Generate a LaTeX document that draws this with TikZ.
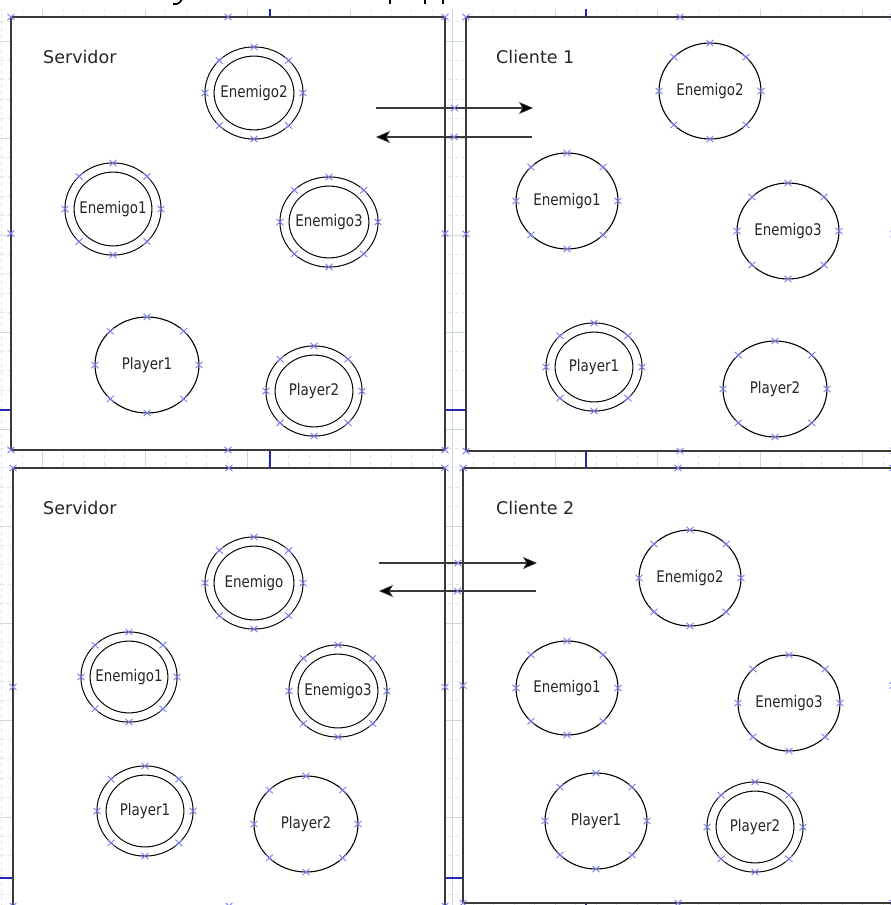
\documentclass[tikz,border=0pt]{standalone}
\usepackage{fontspec}
\setmainfont{DejaVu Sans}
\newfontfamily\ringfont[FakeStretch=0.84]{DejaVu Sans}
\usetikzlibrary{shapes.geometric,arrows.meta,calc}

\definecolor{gridminor}{HTML}{DEE8E7}
\definecolor{gridmajor}{HTML}{CCDAD8}
\definecolor{pagebreak}{HTML}{2626B0}
\definecolor{cpblue}{HTML}{7C7CF4}
\definecolor{framegray}{HTML}{3A3A3A}

\tikzset{
  gridminorline/.style={draw=gridminor, line width=0.8pt, dash pattern=on 4pt off 3pt},
  gridmajorline/.style={draw=gridmajor, line width=0.8pt},
  pageline/.style={draw=pagebreak, line width=1.3pt},
  panel/.style={rectangle, draw=framegray, line width=1.4pt, fill=white,
    inner sep=0pt, outer sep=0pt, anchor=north west},
  panellabel/.style={anchor=base west, inner sep=0pt,
    font=\fontsize{17.5}{20}\selectfont, text=black!85},
  ringone/.style={ellipse, draw=black, line width=1.1pt, inner sep=0pt, outer sep=0pt},
  ringtwo/.style={ellipse, draw=black, line width=1.1pt, double=white,
    double distance=8pt, inner sep=0pt, outer sep=0pt},
  ringtext/.style={inner sep=0pt, font=\ringfont\fontsize{16}{18}\selectfont, text=black!85},
  flow/.style={draw=framegray, line width=1.3pt,
    -{Stealth[length=14pt,width=12pt,inset=3.5pt,fill=black,line width=0.6pt]}},
  cpline/.style={draw=cpblue, line width=0.9pt},
  cpmark/.pic={\draw[cpline] (-3.5,-3.2) -- (3.5,3.2) (-3.5,3.2) -- (3.5,-3.2);},
  inkstroke/.style={draw=black, line width=2pt}
}

% single ring: name, x, y, rx, ry, text
\newcommand\onering[6]{%
  \node[ringone, minimum width={2*#4pt}, minimum height={2*#5pt}] (#1) at (#2,#3) {};
  \node[ringtext] (#1txt) at (#1.center) {#6};
  \foreach \a in {0,45,...,315} {\pic at ([shift={(\a:#4pt and #5pt)}]#1.center) {cpmark};}
}
% double ring: name, x, y, outer rx, outer ry, text
\newcommand\tworing[6]{%
  \node[ringtwo, minimum width={2*(#4-4.5)*1pt}, minimum height={2*(#5-4.5)*1pt}] (#1) at (#2,#3) {};
  \node[ringtext] (#1txt) at (#1.center) {#6};
  \foreach \a in {0,45,...,315} {\pic at ([shift={(\a:#4pt and #5pt)}]#1.center) {cpmark};}
}

\begin{document}
\begin{tikzpicture}[x=1pt,y=-1pt]
\useasboundingbox (0,0) rectangle (891,905);
\clip (0,0) rectangle (891,905);

% background grid
\foreach \i in {-2,...,42} \draw[gridminorline] ({42.7+20.5*\i},0) -- ({42.7+20.5*\i},905);
\foreach \j in {-22,...,24} \draw[gridminorline] (0,{429+19.4*\j}) -- (891,{429+19.4*\j});
\foreach \i in {0,...,8} \draw[gridmajorline] ({42.7+102.5*\i},0) -- ({42.7+102.5*\i},905);
\foreach \j in {-4,...,4} \draw[gridmajorline] (0,{429+97*\j}) -- (891,{429+97*\j});

% page boundaries
\draw[pageline] (270,0) -- (270,905);
\draw[pageline] (586,0) -- (586,905);
\draw[pageline] (0,410) -- (891,410);
\draw[pageline] (0,878) -- (891,878);

% title strip along the top edge
\fill[white] (0,0) rectangle (891,9);
\draw[inkstroke, line width=1.8pt] (182,-1) .. controls (180,3) and (178,4.5) .. (173,4);
\draw[inkstroke] (390,-1) -- (390,4);
\draw[inkstroke] (425,-1) -- (425,4);
\draw[inkstroke] (443,-1) -- (443,4);

% panels
\node[panel, minimum width=434pt, minimum height=433pt] (srvA) at (11,17) {};
\node[panel, minimum width=428pt, minimum height=434pt] (cliA) at (466,17) {};
\node[panel, minimum width=432pt, minimum height=438pt] (srvB) at (13,468) {};
\node[panel, minimum width=430pt, minimum height=435pt] (cliB) at (463,468) {};
\foreach \p in {srvA,cliA,srvB,cliB}
  \foreach \an in {north west,north,north east,east,south east,south,south west,west}
    {\pic at (\p.\an) {cpmark};}

\node[panellabel] (srvAlbl) at ([shift={(32,46)}]srvA.north west) {Servidor};
\node[panellabel] (cliAlbl) at ([shift={(30,46)}]cliA.north west) {Cliente 1};
\node[panellabel] (srvBlbl) at ([shift={(30,46)}]srvB.north west) {Servidor};
\node[panellabel] (cliBlbl) at ([shift={(33,46)}]cliB.north west) {Cliente 2};

% server, first round
\tworing{sAe2}{254}{93}{49}{46}{Enemigo2}
\tworing{sAe1}{113}{209}{48}{46}{Enemigo1}
\tworing{sAe3}{329}{222}{49}{45}{Enemigo3}
\onering{sAp1}{147}{365}{52}{48}{Player1}
\tworing{sAp2}{314}{391}{48}{45}{Player2}

% client 1
\onering{cAe2}{710}{91}{51}{48}{Enemigo2}
\onering{cAe1}{567}{201}{51}{48}{Enemigo1}
\onering{cAe3}{788}{231}{51}{48}{Enemigo3}
\tworing{cAp1}{594}{367}{48}{44}{Player1}
\onering{cAp2}{775}{389}{52}{48}{Player2}

% server, second round
\tworing{sBe}{254}{583}{49}{46}{Enemigo}
\tworing{sBe1}{129}{677}{48}{45}{Enemigo1}
\tworing{sBe3}{338}{691}{49}{46}{Enemigo3}
\tworing{sBp1}{145}{811}{48}{45}{Player1}
\onering{sBp2}{306}{824}{52}{48}{Player2}

% client 2
\onering{cBe2}{690}{578}{51}{48}{Enemigo2}
\onering{cBe1}{567}{688}{51}{47}{Enemigo1}
\onering{cBe3}{789}{703}{51}{48}{Enemigo3}
\onering{cBp1}{596}{821}{51}{48}{Player1}
\tworing{cBp2}{755}{827}{48}{45}{Player2}

% messages between server and clients
\coordinate (upAs) at (376,108);  \coordinate (upAe) at (533,108);
\coordinate (dnAs) at (532,137);  \coordinate (dnAe) at (376,137);
\coordinate (upBs) at (379,563);  \coordinate (upBe) at (537,563);
\coordinate (dnBs) at (536,591);  \coordinate (dnBe) at (379,591);
\draw[flow] (upAs) -- (upAe);
\draw[flow] (dnAs) -- (dnAe);
\draw[flow] (upBs) -- (upBe);
\draw[flow] (dnBs) -- (dnBe);
\foreach \s/\e in {upAs/upAe,dnAs/dnAe,upBs/upBe,dnBs/dnBe}
  {\pic at ($(\s)!0.5!(\e)$) {cpmark};}
\end{tikzpicture}
\end{document}
